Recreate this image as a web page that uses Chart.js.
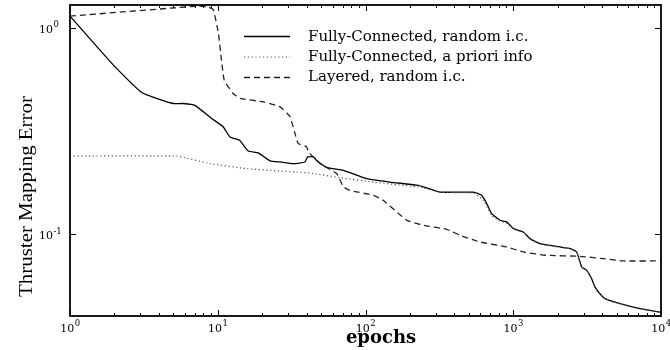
<!DOCTYPE html>
<html>
<head>
<meta charset="utf-8">
<script src="https://cdn.jsdelivr.net/npm/chart.js@4"></script>
<style>
html,body{margin:0;padding:0;background:#fff;}
#wrap{width:670px;height:350px;position:relative;}
</style>
</head>
<body>
<div id="wrap"><canvas id="c" width="670" height="350"></canvas></div>
<script>
// ---- data ----
const seriesNames = ["Fully-Connected, random i.c.", "Fully-Connected, a priori info", "Layered, random i.c."];

const fcRandomEpochs = [1, 1.5, 2.02, 3.06, 4.18, 5.0, 5.85, 7.0, 9.1, 10.9, 12.1, 14.0, 16.1, 18.8, 22.6, 26.4, 32.5, 38.9, 40.6, 44.4, 46.7, 54.6, 70.8, 102, 146, 222, 260, 319, 537, 611, 661, 714, 813, 903, 1002, 1170, 1298, 1518, 2071, 2421, 2687, 2904, 3140, 3395, 3574, 3864, 4178, 5277, 7211, 10000];
const fcRandomError  = [1.14, 0.82, 0.647, 0.486, 0.446, 0.430, 0.430, 0.421, 0.364, 0.331, 0.296, 0.286, 0.253, 0.248, 0.227, 0.224, 0.220, 0.224, 0.237, 0.237, 0.228, 0.211, 0.204, 0.186, 0.179, 0.173, 0.168, 0.160, 0.160, 0.1545, 0.141, 0.126, 0.117, 0.1148, 0.1066, 0.1026, 0.0953, 0.0901, 0.0868, 0.0853, 0.0821, 0.0694, 0.0669, 0.0609, 0.0555, 0.0515, 0.0488, 0.0461, 0.0436, 0.0419];

const fcAprioriEpochs = [1, 5.27, 8.86, 15.7, 34.2, 44.4, 67.2, 113, 246, 319, 537, 627, 714, 813, 903, 1002, 1170, 1298, 1518, 2071, 2421, 2687, 2904, 3140, 3395, 3574, 3864, 4178, 5277, 7211, 10000];
const fcAprioriError  = [0.239, 0.239, 0.220, 0.208, 0.200, 0.197, 0.188, 0.179, 0.168, 0.160, 0.158, 0.146, 0.1236, 0.116, 0.113, 0.106, 0.102, 0.0948, 0.0898, 0.0866, 0.0852, 0.0820, 0.0694, 0.0669, 0.0609, 0.0555, 0.0515, 0.0488, 0.0461, 0.0436, 0.0419];

const layeredEpochs = [1, 7.39, 8.63, 9.34, 10.1, 10.6, 11.07, 12.7, 14.2, 20.3, 26.4, 30.8, 33.3, 35.1, 40.0, 41.0, 49.2, 63.8, 70.8, 78.5, 113, 132, 190, 246, 354, 436, 595, 903, 1170, 1684, 2830, 4072, 5560, 10000];
const layeredError  = [1.14, 1.274, 1.26, 1.22, 0.94, 0.697, 0.557, 0.481, 0.455, 0.438, 0.414, 0.371, 0.308, 0.275, 0.265, 0.251, 0.220, 0.197, 0.170, 0.163, 0.1545, 0.146, 0.117, 0.1106, 0.1057, 0.0989, 0.0918, 0.0868, 0.0821, 0.0791, 0.0782, 0.0762, 0.0743, 0.0743];

const xTickValues = [1, 10, 100, 1000, 10000];
const xTickExps   = ["0", "1", "2", "3", "4"];
const yTickValues = [1, 0.1];
const yTickExps   = ["0", "-1"];
const xTitle = "epochs";
const yTitle = "Thruster Mapping Error";

// ---- build ----
const zip = (xs, ys) => xs.map((x, i) => ({x: x, y: ys[i]}));

const styles = [
  {color: "#000", width: 1.3, dash: []},
  {color: "#555", width: 1.2, dash: [1.2, 2.6]},
  {color: "#222", width: 1.3, dash: [6, 4]}
];

const datasets = [
  zip(fcRandomEpochs, fcRandomError),
  zip(fcAprioriEpochs, fcAprioriError),
  zip(layeredEpochs, layeredError)
].map((d, i) => ({
  label: seriesNames[i],
  data: d,
  borderColor: styles[i].color,
  borderWidth: styles[i].width,
  borderDash: styles[i].dash,
  pointRadius: 0,
  tension: 0.15,
  fill: false
}));
datasets[0].order = 3; datasets[1].order = 2; datasets[2].order = 1;

const decor = {
  id: "decor",
  afterDraw(chart) {
    const ctx = chart.ctx;
    const a = chart.chartArea;
    const xs = chart.scales.x, ys = chart.scales.y;
    ctx.save();
    // frame
    ctx.strokeStyle = "#000";
    ctx.lineWidth = 1.8;
    ctx.setLineDash([]);
    ctx.strokeRect(a.left, a.top, a.right - a.left, a.bottom - a.top);
    // x ticks (major + minor), bottom and top, inward
    ctx.lineWidth = 1;
    for (let d = 0; d < 4; d++) {
      for (let m = 1; m <= 9; m++) {
        const v = m * Math.pow(10, d);
        const px = Math.round(xs.getPixelForValue(v)) + 0.5;
        const len = m === 1 ? 6 : 3;
        ctx.beginPath();
        ctx.moveTo(px, a.bottom); ctx.lineTo(px, a.bottom - len);
        ctx.moveTo(px, a.top); ctx.lineTo(px, a.top + len);
        ctx.stroke();
      }
    }
    // y ticks left and right
    yTickValues.forEach(v => {
      const py = Math.round(ys.getPixelForValue(v)) + 0.5;
      ctx.beginPath();
      ctx.moveTo(a.left, py); ctx.lineTo(a.left + 6, py);
      ctx.moveTo(a.right, py); ctx.lineTo(a.right - 6, py);
      ctx.stroke();
    });
    // tick labels
    ctx.fillStyle = "#000";
    const baseFont = "11px 'DejaVu Serif'";
    const expFont = "8.5px 'DejaVu Serif'";
    xTickValues.forEach((v, i) => {
      const px = xs.getPixelForValue(v);
      ctx.font = baseFont;
      const w1 = ctx.measureText("10").width;
      ctx.font = expFont;
      const w2 = ctx.measureText(xTickExps[i]).width;
      const x0 = px - (w1 + w2) / 2;
      ctx.textBaseline = "alphabetic";
      ctx.textAlign = "left";
      ctx.font = baseFont;
      ctx.fillText("10", x0, a.bottom + 15.5);
      ctx.font = expFont;
      ctx.fillText(xTickExps[i], x0 + w1 + 0.5, a.bottom + 10);
    });
    yTickValues.forEach((v, i) => {
      const py = ys.getPixelForValue(v);
      ctx.textAlign = "left";
      ctx.font = baseFont;
      const w1 = ctx.measureText("10").width;
      ctx.fillText("10", 39, py + 5);
      ctx.font = expFont;
      ctx.fillText(yTickExps[i], 39 + w1 + 0.5, py - 0.5);
    });
    // axis titles
    ctx.font = "bold 18px 'DejaVu Serif'";
    ctx.textAlign = "center";
    ctx.fillText(xTitle, 381, 343);
    ctx.save();
    ctx.translate(32, 196.5);
    ctx.rotate(-Math.PI / 2);
    ctx.scale(1.1, 1);
    ctx.font = "19px 'Liberation Serif'";
    ctx.textAlign = "center";
    ctx.textBaseline = "alphabetic";
    ctx.fillText(yTitle, 0, 0);
    ctx.restore();
    // legend
    const rowsLine = [36.5, 57, 77.5];
    const rowsText = [40.7, 61, 81];
    ctx.font = "15px 'DejaVu Serif'";
    ctx.textAlign = "left";
    chart.data.datasets.forEach((ds, i) => {
      ctx.beginPath();
      ctx.strokeStyle = ds.borderColor;
      ctx.lineWidth = ds.borderWidth;
      ctx.setLineDash(ds.borderDash);
      ctx.moveTo(244, rowsLine[i]); ctx.lineTo(290, rowsLine[i]);
      ctx.stroke();
      ctx.setLineDash([]);
      ctx.fillStyle = "#000";
      ctx.fillText(ds.label, 308, rowsText[i]);
    });
    ctx.restore();
  }
};

new Chart(document.getElementById("c"), {
  type: "line",
  data: {datasets: datasets},
  options: {
    responsive: false,
    animation: false,
    devicePixelRatio: 1,
    layout: {padding: {left: 70, top: 5, right: 9, bottom: 34}},
    plugins: {legend: {display: false}, tooltip: {enabled: false}},
    scales: {
      x: {type: "logarithmic", min: 1, max: 10000, display: false},
      y: {type: "logarithmic", min: 0.0402, max: 1.29, display: false}
    }
  },
  plugins: [decor]
});
</script>
</body>
</html>
